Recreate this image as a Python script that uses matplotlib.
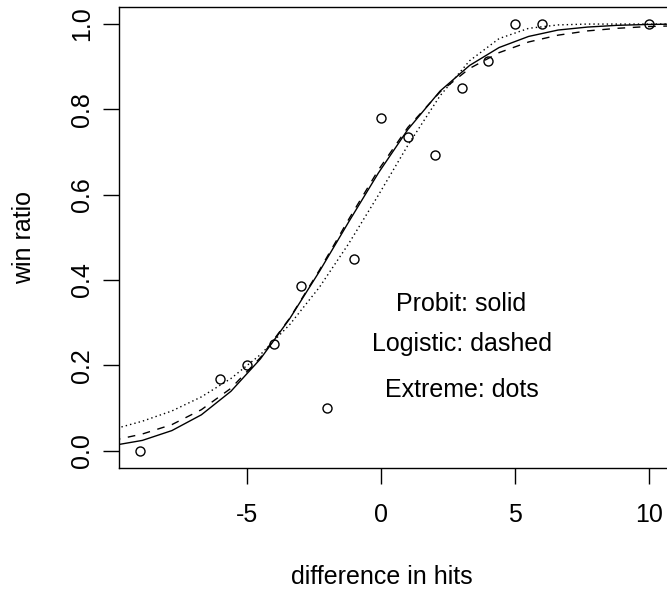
import numpy as np
import matplotlib
matplotlib.use("Agg")
import matplotlib.pyplot as plt

plt.rcParams['font.family'] = ['Liberation Sans', 'DejaVu Sans']

# === observed win ratios ===
hits_diff = [-9, -6, -5, -4, -3, -2, -1, 0, 1, 2, 3, 4, 5, 6, 10]
win_ratio = [0.0, 0.167, 0.2, 0.25, 0.385, 0.1, 0.45, 0.78, 0.735, 0.694,
             0.85, 0.913, 1.0, 1.0, 1.0]

# === fitted curves ===
curve_x = [-10, -8.9, -7.8, -6.7, -5.6, -4.5, -3.4, -2.3, -1.2, -0.1,
           1.0, 2.2, 3.3, 4.4, 5.5, 6.6, 7.7, 8.8, 9.9, 11]
probit = [0.012, 0.024, 0.047, 0.084, 0.139, 0.215, 0.310, 0.420, 0.537, 0.651,
          0.753, 0.843, 0.903, 0.945, 0.971, 0.986, 0.993, 0.997, 0.999, 1.0]
logistic = [0.024, 0.039, 0.061, 0.096, 0.146, 0.218, 0.311, 0.423, 0.543, 0.658,
            0.758, 0.841, 0.896, 0.933, 0.958, 0.974, 0.984, 0.990, 0.994, 0.996]
extreme = [0.050, 0.069, 0.093, 0.126, 0.169, 0.225, 0.296, 0.383, 0.486, 0.599,
           0.716, 0.832, 0.914, 0.966, 0.990, 0.998, 1.0, 1.0, 1.0, 1.0]

notes = ["Probit: solid", "Logistic: dashed", "Extreme: dots"]
note_y = [0.343, 0.249, 0.141]

fs = 18

fig = plt.figure(figsize=(6.67, 5.94), dpi=100)
ax = fig.add_axes([119.3 / 667, 126.3 / 594, 550.4 / 667, 460.7 / 594])

ax.plot(hits_diff, win_ratio, 'o', ms=6.5, mfc='none', mec='black', mew=1.0)
ax.plot(curve_x, probit, color='black', lw=1.0)
ax.plot(curve_x, logistic, color='black', lw=1.0, dashes=(5.5, 5.5))
ax.plot(curve_x, extreme, color='black', lw=1.0, dashes=(1.0, 2.2))

for txt, yy in zip(notes, note_y):
    ax.text(3, yy, txt, ha='center', va='center', fontsize=fs)

ax.set_xlim(-9.76, 10.76)
ax.set_ylim(-0.04, 1.04)
ax.set_xticks([-5, 0, 5, 10])
ax.set_xticklabels(["-5", "0", "5", "10"])
ax.set_yticks([0.0, 0.2, 0.4, 0.6, 0.8, 1.0])
ax.set_yticklabels(["0.0", "0.2", "0.4", "0.6", "0.8", "1.0"], rotation=90, va='center')
ax.tick_params(axis='x', length=11.3, width=1.0, labelsize=fs, pad=14)
ax.tick_params(axis='y', length=11.3, width=1.0, labelsize=fs, pad=7)
for s in ax.spines.values():
    s.set_linewidth(1.0)

fig.text(24 / 667, 1 - 237 / 594, "win ratio", rotation=90, ha='center', va='center', fontsize=fs)
fig.text(381.7 / 667, 1 - 577 / 594, "difference in hits", ha='center', va='center', fontsize=fs)

fig.savefig("out.png", dpi=100)
